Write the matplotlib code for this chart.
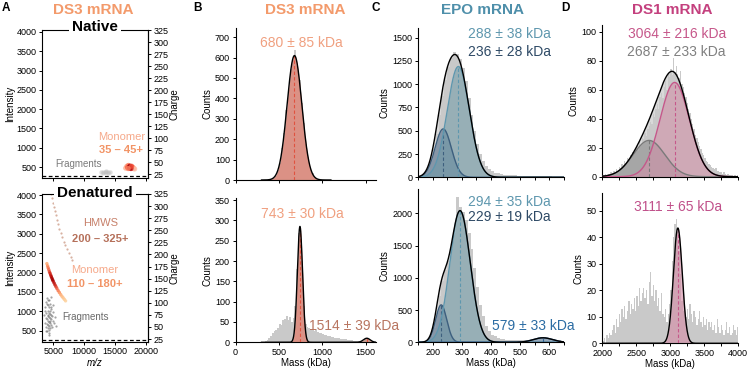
import numpy as np
import matplotlib
matplotlib.use('Agg')
import matplotlib.pyplot as plt
from matplotlib.ticker import MultipleLocator

plt.rcParams['font.family'] = ['Liberation Sans', 'DejaVu Sans']
plt.rcParams['axes.linewidth'] = 0.8

# ---------------- DATA ----------------
# Panel A (CDMS 2D plots): m/z, intensity, relative density
nat_mono_mz = [16700, 16900, 17000, 17150, 17300, 17400, 17500, 17600, 17700, 17850, 18000, 18150, 17250, 17450, 17550, 17350, 17650, 17100]
nat_mono_int = [470, 520, 490, 540, 500, 520, 480, 500, 470, 490, 460, 450, 470, 500, 460, 480, 520, 460]
nat_mono_den = [0.3, 0.35, 0.55, 0.5, 0.8, 0.9, 1.0, 0.85, 0.7, 0.5, 0.35, 0.25, 0.7, 0.95, 0.8, 0.9, 0.6, 0.45]
nat_frag_mz = [12700, 13000, 13300, 13600, 13900, 14200, 13100, 13500, 13800]
nat_frag_int = [360, 380, 370, 390, 375, 360, 350, 365, 355]

den_mono_mz = [3990, 4100, 4200, 4300, 4400, 4500, 4600, 4700, 4800, 4900, 5000, 5150, 5300, 5450, 5600, 5800, 6000, 6200, 6400, 6600, 6800, 7000]
den_mono_int = [2230, 2170, 2120, 2070, 2020, 1980, 1935, 1895, 1855, 1815, 1780, 1730, 1680, 1635, 1590, 1535, 1485, 1435, 1390, 1350, 1310, 1270]
den_mono_den = [0.35, 0.45, 0.55, 0.6, 0.7, 0.8, 0.85, 0.9, 0.95, 1.0, 0.95, 0.9, 0.85, 0.75, 0.65, 0.55, 0.45, 0.35, 0.3, 0.25, 0.2, 0.15]
hmws_mz = [4650, 4800, 4950, 5100, 5250, 5400, 5600, 5800, 6000, 6200, 6450, 6700, 6950, 7200, 7500, 7800, 8100]
hmws_int = [4030, 3910, 3790, 3680, 3580, 3480, 3360, 3240, 3130, 3030, 2910, 2800, 2700, 2610, 2500, 2410, 2330]
den_frag_mz = [3600, 3700, 3750, 3800, 3850, 3900, 3950, 4000, 4050, 4100, 4150, 4200, 4250, 4300, 4350, 4400, 4450,
               4500, 4550, 4600, 4650, 4700, 4800, 4900, 5000, 5100, 5300, 5500, 3900, 4000, 4100, 4200, 4300, 4400,
               4500, 4600, 4700, 4100, 4250, 4350, 4450, 4550, 3800, 4000, 4200, 4400, 4600, 4800, 3700, 4150, 4500, 4900]
den_frag_int = [900, 1100, 700, 1250, 600, 950, 1350, 800, 500, 1150, 650, 1000, 400, 850, 1300, 720, 560,
                930, 1180, 800, 640, 1050, 880, 760, 980, 700, 850, 620, 480, 1200, 880, 580, 1100, 960,
                760, 1380, 900, 750, 450, 620, 1010, 840, 820, 660, 1280, 530, 1100, 600, 1000, 900, 700, 1150]

# Mass histograms (counts per bin)
B_top_start, B_top_bin = 400, 25
B_top_hist = [5, 12, 21, 50, 85, 155, 230, 345, 440, 545, 590, 635, 560, 490, 375, 280, 176, 112, 57, 33, 12, 7, 2, 1]
B_bot_start, B_bot_bin = 340, 20
B_bot_hist = [2, 5, 10, 16, 22, 28, 30, 35, 45, 42, 55, 58, 65, 55, 62, 50, 60, 90, 180, 270, 280, 200, 90, 45,
              38, 35, 33, 30, 28, 32, 25, 22, 24, 20, 18, 17, 15, 16, 13, 12, 11, 10, 10, 9, 8, 8, 7, 6, 6, 5,
              5, 4, 4, 3, 3, 3, 4, 7, 9, 8, 4, 2, 1]
C_start, C_bin = 150, 10
C_top_hist = [15, 25, 45, 90, 175, 300, 470, 670, 870, 1050, 1190, 1280, 1350, 1330, 1270, 1170, 1030, 850, 670, 500,
              360, 250, 170, 120, 85, 65, 50, 42, 36, 30, 27, 24, 22, 20, 18, 17, 15, 14, 13, 12,
              12, 11, 10, 10, 9, 9, 8, 8, 7, 6]
C_bot_hist = [5, 12, 25, 40, 90, 220, 450, 720, 950, 1120, 1260, 1450, 1700, 2250, 2100, 2020, 1900, 1700, 1450, 1150,
              850, 580, 400, 260, 170, 120, 90, 70, 58, 48, 42, 38, 34, 30, 28, 30, 32, 36, 42, 50,
              56, 62, 66, 68, 64, 58, 50, 42, 34, 26]
D_start, D_bin = 2000, 20
D_top_hist = [1, 0, 2, 1, 2, 2, 3, 2, 4, 3, 5, 4, 7, 6, 9, 8, 11, 9, 13, 12,
              15, 13, 17, 16, 19, 21, 18, 24, 22, 27, 26, 30, 28, 33, 35, 38, 36, 43, 41, 47,
              50, 47, 55, 58, 54, 62, 66, 60, 71, 69, 74, 70, 82, 72, 76, 71, 68, 73, 64, 62,
              58, 55, 51, 47, 44, 40, 36, 33, 29, 27, 24, 21, 19, 16, 15, 13, 11, 10, 9, 8,
              7, 6, 5, 6, 4, 4, 3, 3, 2, 3, 2, 1, 2, 1, 1, 1, 0, 1, 0, 1]
D_bot_hist = [1, 2, 0, 3, 2, 4, 3, 5, 7, 4, 9, 6, 11, 8, 13, 10, 14, 9, 12, 16,
              11, 15, 13, 17, 12, 18, 14, 21, 16, 19, 21, 17, 20, 15, 23, 27, 18, 22, 16, 20,
              14, 17, 12, 19, 11, 10, 13, 8, 11, 15, 20, 31, 40, 45, 47, 42, 35, 26, 16, 12,
              14, 10, 13, 9, 15, 11, 8, 12, 10, 7, 9, 12, 8, 6, 10, 7, 9, 5, 8, 6,
              8, 5, 7, 4, 9, 6, 4, 7, 5, 3, 5, 8, 4, 6, 3, 4, 7, 5, 3, 6]

# Gaussian fit parameters: (mean kDa, sigma kDa, amplitude counts)
B_top_fits = [(680, 85, 610)]
B_bot_fits = [(743, 30, 285), (1514, 39, 10)]
C_top_fits = [(236, 28, 520), (288, 38, 1190)]
C_bot_fits = [(229, 19, 580), (294, 35, 2040), (579, 33, 70)]
D_top_fits = [(2687, 233, 25), (3064, 216, 65)]
D_bot_fits = [(3111, 65, 43.5)]

# ---------------- STYLE ----------------
W, H = 749, 372
fig = plt.figure(figsize=(W / 100, H / 100), dpi=100)

def rect(l, t, r, b):
    return [l / W, 1 - b / H, (r - l) / W, (b - t) / H]

TICK = 6.5
ANN = 10
HIST_C = '#c9c9c9'
DS3 = '#f39a6b'
EPO = '#4e8faa'
DS1 = '#c4407e'

def style_ax(ax):
    ax.spines['top'].set_visible(False)
    ax.spines['right'].set_visible(False)
    ax.tick_params(direction='out', length=2.5, width=0.7, labelsize=TICK, pad=1.5)

def gauss(x, m, s, a):
    return a * np.exp(-0.5 * ((x - m) / s) ** 2)

def draw_hist(ax, start, binw, vals):
    edges = start + binw * np.arange(len(vals) + 1)
    ax.stairs(vals, edges, fill=True, color=HIST_C, lw=0, zorder=1)

# ---------------- PANEL A ----------------
def panelA(rc, ylim, chlim):
    ax = fig.add_axes(rect(*rc))
    ax.set_xlim(3200, 20300)
    ax.set_ylim(*ylim)
    ax.set_yticks(range(500, 4001, 500))
    ax.set_xticks([5000, 10000, 15000, 20000])
    ax.tick_params(direction='out', length=2.5, width=0.7, labelsize=TICK, pad=1.5)
    ax.set_ylabel('Intensity', fontsize=7, labelpad=1)
    ax.axhline(260, color='black', ls=(0, (3, 2)), lw=0.9)
    tw = ax.twinx()
    tw.set_ylim(*chlim)
    tw.set_yticks(range(25, 326, 25))
    tw.tick_params(direction='out', length=2.5, width=0.7, labelsize=TICK, pad=1.5)
    tw.set_ylabel('Charge', fontsize=7, labelpad=1)
    for s in ['top', 'left', 'bottom']:
        tw.spines[s].set_visible(False)
    return ax

axA1 = panelA((42, 30, 148, 178), (215, 4050), (17, 325))
axA1.set_xticklabels([])
axA1.scatter(nat_frag_mz, nat_frag_int, s=10, c='#bdbdbd', alpha=0.5, lw=0)
axA1.scatter(nat_mono_mz, nat_mono_int, s=14, c=nat_mono_den, cmap='Reds', vmin=0, vmax=1.05, alpha=0.8, lw=0)
axA1.text(16000, 1285, 'Monomer', color='#f6a98a', fontsize=8, ha='center', va='center')
axA1.text(16000, 940, '35 – 45+', color='#f29466', fontsize=8, ha='center', va='center', fontweight='bold')
axA1.text(9080, 570, 'Fragments', color='#7a7a7a', fontsize=7, ha='center', va='center')

axA2 = panelA((42, 194, 148, 341.7), (216, 4026), (19.5, 324))
axA2.set_xlabel('m/z', fontsize=7, fontstyle='italic', labelpad=1)
axA2.scatter(den_frag_mz, den_frag_int, s=2.5, c='#5a5a5a', alpha=0.55, lw=0)
axA2.scatter(hmws_mz, hmws_int, s=2.5, c='#c7907a', alpha=0.7, lw=0)
axA2.scatter(den_mono_mz, den_mono_int, s=6, c=den_mono_den, cmap='OrRd', vmin=-0.2, vmax=1.1, alpha=0.85, lw=0)
axA2.text(12580, 3270, 'HMWS', color='#c7806a', fontsize=8, ha='center', va='center')
axA2.text(12580, 2865, '200 – 325+', color='#b5705a', fontsize=8, ha='center', va='center', fontweight='bold')
axA2.text(11770, 2065, 'Monomer', color='#f6a98a', fontsize=8, ha='center', va='center')
axA2.text(11770, 1700, '110 – 180+', color='#f29466', fontsize=8, ha='center', va='center', fontweight='bold')
axA2.text(10160, 850, 'Fragments', color='#6a6a6a', fontsize=7, ha='center', va='center')

fig.text(95 / W, 1 - 27 / H, 'Native', fontsize=11, fontweight='bold', ha='center', va='center',
         bbox=dict(fc='white', ec='none', pad=2.5), zorder=10)
fig.text(95 / W, 1 - 193 / H, 'Denatured', fontsize=11, fontweight='bold', ha='center', va='center',
         bbox=dict(fc='white', ec='none', pad=2.5), zorder=10)

# ---------------- PANEL B ----------------
axB1 = fig.add_axes(rect(235.5, 28, 376, 180))
axB2 = fig.add_axes(rect(235.5, 198, 376, 342.3))
for ax in (axB1, axB2):
    style_ax(ax)
    ax.set_xlim(0, 1620)
    ax.set_xticks([0, 500, 1000, 1500])
    ax.set_ylabel('Counts', fontsize=7, labelpad=2)
axB1.set_xticklabels([])
axB1.set_ylim(0, 745)
axB1.set_yticks(range(0, 701, 100))
axB2.set_ylim(0, 355)
axB2.set_yticks(range(0, 351, 50))
axB2.set_xlabel('Mass (kDa)', fontsize=7, labelpad=1)

draw_hist(axB1, B_top_start, B_top_bin, B_top_hist)
x = np.linspace(300, 1100, 600)
m, s, a = B_top_fits[0]
g = gauss(x, m, s, a)
axB1.fill_between(x, g, color='#e08474', alpha=0.8, lw=0, zorder=2)
axB1.plot(x, g, color='black', lw=1, zorder=4)
axB1.plot([m, m], [0, a], color='#e0523f', ls=(0, (3, 2)), lw=0.8, zorder=3)
axB1.text(756, 673, '680 ± 85 kDa', color='#f0a080', fontsize=ANN, ha='center', va='center')

draw_hist(axB2, B_bot_start, B_bot_bin, B_bot_hist)
x = np.linspace(300, 1620, 1400)
tot = np.zeros_like(x)
fillc = ['#e08474', '#c89484']
for (m, s, a), fc in zip(B_bot_fits, fillc):
    g = gauss(x, m, s, a)
    tot += g
    axB2.fill_between(x, g, color=fc, alpha=0.8, lw=0, zorder=2)
    axB2.plot([m, m], [0, a], color='#e0523f', ls=(0, (3, 2)), lw=0.8, zorder=3)
axB2.plot(x, tot, color='black', lw=1, zorder=4)
axB2.text(775, 315, '743 ± 30 kDa', color='#f0a080', fontsize=ANN, ha='center', va='center')
axB2.text(843, 41, '1514 ± 39 kDa', color='#b87560', fontsize=ANN, ha='left', va='center', clip_on=False)

# ---------------- PANEL C ----------------
axC1 = fig.add_axes(rect(418.2, 28, 563.6, 177.3))
axC2 = fig.add_axes(rect(418.2, 189.3, 563.6, 342.3))
for ax in (axC1, axC2):
    style_ax(ax)
    ax.set_xlim(150, 650)
    ax.xaxis.set_major_locator(MultipleLocator(100))
    ax.xaxis.set_minor_locator(MultipleLocator(50))
    ax.tick_params(which='minor', direction='out', length=2.5, width=0.7)
    ax.set_ylabel('Counts', fontsize=7, labelpad=2)
axC1.set_xticks(range(200, 601, 100))
axC1.set_xticklabels([])
axC1.set_ylim(0, 1604)
axC1.set_yticks(range(0, 1501, 250))
axC2.set_ylim(0, 2372)
axC2.set_yticks(range(0, 2001, 500))
axC2.set_xlabel('Mass (kDa)', fontsize=7, labelpad=1)

def fit_panel(ax, hist_start, hist_bin, hist, fits, fills, lines, xr, total_fill=True):
    draw_hist(ax, hist_start, hist_bin, hist)
    x = np.linspace(xr[0], xr[1], 1500)
    tot = np.zeros_like(x)
    gs = []
    for (m, s, a) in fits:
        g = gauss(x, m, s, a)
        tot += g
        gs.append(g)
    if total_fill:
        ax.fill_between(x, tot, color=HIST_C, alpha=0.7, lw=0, zorder=1.5)
    for (m, s, a), g, fc, lc in zip(fits, gs, fills, lines):
        ax.fill_between(x, g, color=fc, alpha=0.55, lw=0, zorder=2)
        ax.plot(x, g, color=lc, lw=1, zorder=3)
        ax.plot([m, m], [0, a], color=lc, ls=(0, (3, 2)), lw=0.8, zorder=3)
    ax.plot(x, tot, color='black', lw=1, zorder=4)

fit_panel(axC1, C_start, C_bin, C_top_hist, C_top_fits,
          ['#4f6d8c', '#6f9aa8'], ['#3d5f7e', '#5e97ae'], (150, 650))
axC1.text(463, 1540, '288 ± 38 kDa', color='#5e97ae', fontsize=ANN, ha='center', va='center')
axC1.text(463, 1350, '236 ± 28 kDa', color='#2e4a66', fontsize=ANN, ha='center', va='center')

fit_panel(axC2, C_start, C_bin, C_bot_hist, C_bot_fits,
          ['#4f6d8c', '#6f9aa8', '#6d8fb0'], ['#3d5f7e', '#5e97ae', '#2f5f8f'], (150, 650))
axC2.text(463, 2180, '294 ± 35 kDa', color='#5e97ae', fontsize=ANN, ha='center', va='center')
axC2.text(463, 1938, '229 ± 19 kDa', color='#2e4a66', fontsize=ANN, ha='center', va='center')
axC2.text(403, 257, '579 ± 33 kDa', color='#2b6ca3', fontsize=ANN, ha='left', va='center', clip_on=False)

# ---------------- PANEL D ----------------
axD1 = fig.add_axes(rect(602.3, 25, 738.3, 176.7))
axD2 = fig.add_axes(rect(602.3, 193.3, 738.3, 343.3))
for ax in (axD1, axD2):
    style_ax(ax)
    ax.set_xlim(2000, 4000)
    ax.xaxis.set_major_locator(MultipleLocator(500))
    ax.xaxis.set_minor_locator(MultipleLocator(250))
    ax.tick_params(which='minor', direction='out', length=2.5, width=0.7)
    ax.set_ylabel('Counts', fontsize=7, labelpad=2)
axD1.set_xticklabels([])
axD1.set_ylim(0, 104.6)
axD1.set_yticks(range(0, 101, 20))
axD2.set_ylim(0, 56.6)
axD2.set_yticks(range(0, 51, 10))
axD2.set_xlabel('Mass (kDa)', fontsize=7, labelpad=1)

fit_panel(axD1, D_start, D_bin, D_top_hist, D_top_fits,
          ['#8a8a8a', '#d48fa8'], ['#7a7a7a', '#c6578a'], (2000, 4000))
axD1.text(3094, 98.2, '3064 ± 216 kDa', color='#c6578a', fontsize=ANN, ha='center', va='center')
axD1.text(3094, 86.2, '2687 ± 233 kDa', color='#808080', fontsize=ANN, ha='center', va='center')

draw_hist(axD2, D_start, D_bin, D_bot_hist)
x = np.linspace(2000, 4000, 1500)
m, s, a = D_bot_fits[0]
g = gauss(x, m, s, a)
axD2.fill_between(x, g, color='#d48fa8', alpha=0.65, lw=0, zorder=2)
axD2.plot(x, g, color='black', lw=1, zorder=4)
axD2.plot([m, m], [0, a], color='#c6578a', ls=(0, (3, 2)), lw=0.8, zorder=3)
axD2.text(3118, 51.5, '3111 ± 65 kDa', color='#c0508a', fontsize=ANN, ha='center', va='center')

# ---------------- TITLES / LETTERS ----------------
fig.text(93 / W, 1 - 10 / H, 'DS3 mRNA', color=DS3, fontsize=11, fontweight='bold', ha='center', va='center')
fig.text(305 / W, 1 - 10 / H, 'DS3 mRNA', color=DS3, fontsize=11, fontweight='bold', ha='center', va='center')
fig.text(483 / W, 1 - 10 / H, 'EPO mRNA', color=EPO, fontsize=11, fontweight='bold', ha='center', va='center')
fig.text(672 / W, 1 - 10 / H, 'DS1 mRNA', color=DS1, fontsize=11, fontweight='bold', ha='center', va='center')
for lx, lt in [(2, 'A'), (193, 'B'), (371, 'C'), (561, 'D')]:
    fig.text(lx / W, 1 - 8 / H, lt, fontsize=8.5, fontweight='bold', ha='left', va='center')

fig.savefig('out.png', dpi=100)
